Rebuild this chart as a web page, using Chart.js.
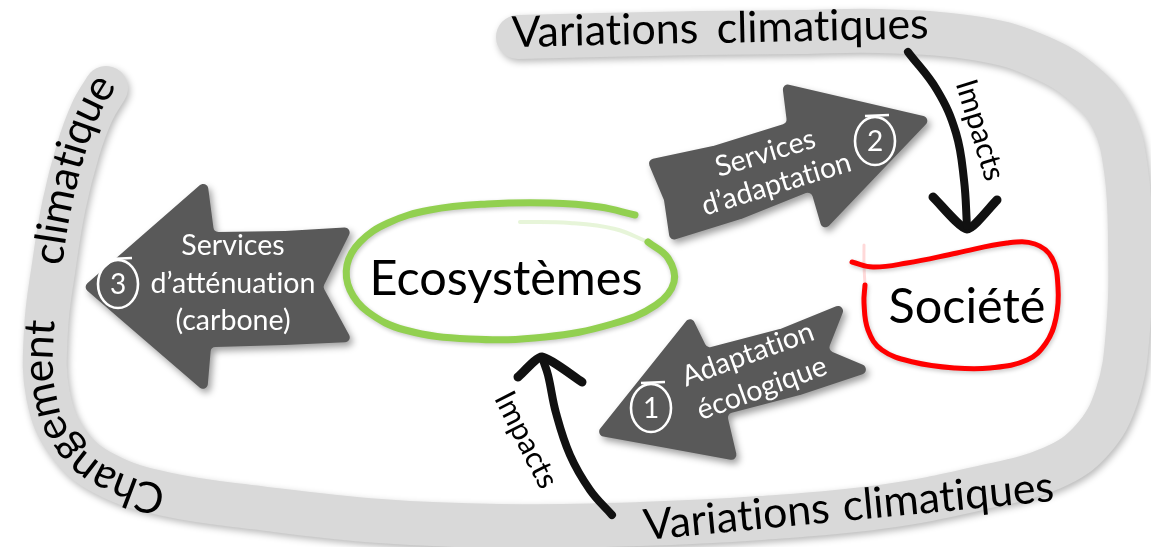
<!DOCTYPE html>
<html>
<head>
<meta charset="utf-8">
<script src="https://cdn.jsdelivr.net/npm/chart.js@4.4.1/dist/chart.umd.min.js"></script>
<style>
html,body{margin:0;padding:0;background:#fff;overflow:hidden}
#wrap{width:1151px;height:547px;position:relative}
</style>
</head>
<body>
<div id="wrap"><canvas id="c"></canvas></div>
<script>
// ---- Diagram data (diagram units: x 0..1151 left→right, y 0..547 top→bottom) ----
const bandPath = [[518,37],[600,35],[700,33],[800,32],[880,31],[980,39],[1040,57],[1085,85],[1113,120],[1126,170],[1130,240],[1128,330],[1117,395],[1092,440],[1052,468],[980,488],[880,507],[760,518],[640,524],[500,526],[380,521],[260,508],[165,494],[105,474],[68,443],[48,395],[46,330],[54,265],[64,205],[78,150],[92,112],[106,88]];
const ecoRing = [[635,215],[600,207],[550,203],[487,204],[430,210],[388,223],[360,242],[347,265],[350,290],[368,312],[405,330],[470,339],[545,337],[612,324],[656,305],[674,282],[668,258],[648,242]];
const ecoRingFade = [[648,242],[615,229],[570,223],[520,222]];
const societyLoop = [[852,262],[873,267],[907,263],[957,253],[1007,243],[1035,244],[1052,258],[1058,287],[1056,318],[1046,343],[1027,360],[990,368],[955,368],[913,362],[882,350],[868,330],[864,303],[865,285]];
const societyLoopFade = [[865,285],[864,265],[864,245]];
const impactTop = [[908,52],[937,90],[956,133],[964,180],[967,226]];
const impactTopHead = [[933,197],[967,229],[997,200]];
const impactBottom = [[612,515],[590,490],[570,455],[556,413],[548,375],[543,360]];
const impactBottomHead = [[518,377],[542,357],[582,382]];

const arrowMitigation = [[83,287],[207,179],[214,232],[285,231],[353,227],[323,287],[353,342],[285,345],[211,347],[207,394]];
const arrowAdaptServices = [[647,160],[713,146],[787,123],[782,83],[932,118],[823,232],[811,191],[741,219],[670,241],[664,200]];
const arrowEcoAdapt = [[595,435],[691,315],[707,348],[780,329],[847,302],[828,350],[875,370],[800,395],[727,414],[738,461]];

const mitigationLines = ['Services','d’atténuation','(carbone)'];
const mitigationBaselines = [[233,255],[233,293],[233,330]];
const adaptServiceLines = ['Services','d’adaptation'];
const adaptServiceBaselines = [[768,162],[779,193]];
const ecoAdaptLines = ['Adaptation','écologique'];
const ecoAdaptBaselines = [[751,363],[765,397]];
const arrowTextAngles = [0,-17,-20];

const badgeNumbers = ['3','2','1'];
const badgeCenters = [[118,283],[875,140],[651,407]];

const nodeNames = ['Ecosystèmes','Société'];
const nodeBaselines = [[506,295],[967,323]];
const nodeWidths = [273,157];

const bandWords = ['Variations','climatiques','Variations','climatiques'];
const bandWordStarts = [[512,47],[717,43],[645,540],[844,521]];
const bandWordAngles = [-1.3,-1.3,-5.5,-5.5];
const curvedWords = ['Changement','climatique'];
const curvedWordStarts = [[164,495],[54,265]];

const impactLabel = 'Impacts';
const impactLabelCenters = [[980,130],[526,440]];
const impactLabelAngles = [73,63];

// ---- helpers ----
const FONT = 'Lato, "Open Sans", sans-serif';
const noLig = s => s.replace(/([tf])([ilf])/g, '$1\u200C$2');
const toXY = arr => arr.map(p => ({x:p[0], y:p[1]}));
function lineDS(label, pts, color, width, tension, order) {
  return {label, data: toXY(pts), borderColor: color, borderWidth: width, tension,
    pointRadius: 0, borderCapStyle: 'round', borderJoinStyle: 'round', fill: false, order};
}
const shadows = {
  band: {c:'rgba(0,0,0,0.28)', b:7, x:2, y:3},
  eco: {c:'rgba(0,0,0,0.22)', b:4, x:1, y:2},
  soc: {c:'rgba(0,0,0,0.22)', b:4, x:1, y:2},
};
function fitPx(ctx, text, width) {
  ctx.font = '100px ' + FONT;
  return 100 * width / ctx.measureText(noLig(text)).width;
}
function sampleLine(meta) {
  const pts = meta.data, out = [];
  for (let i = 0; i < pts.length - 1; i++) {
    const a = pts[i], b = pts[i+1];
    const c1x = a.cp2x ?? a.x, c1y = a.cp2y ?? a.y, c2x = b.cp1x ?? b.x, c2y = b.cp1y ?? b.y;
    for (let k = 0; k < 24; k++) {
      const t = k/24, u = 1-t;
      out.push({x: u*u*u*a.x + 3*u*u*t*c1x + 3*u*t*t*c2x + t*t*t*b.x,
                y: u*u*u*a.y + 3*u*u*t*c1y + 3*u*t*t*c2y + t*t*t*b.y});
    }
  }
  const l = pts[pts.length-1]; out.push({x:l.x, y:l.y});
  out[0].s = 0;
  for (let i = 1; i < out.length; i++) out[i].s = out[i-1].s + Math.hypot(out[i].x-out[i-1].x, out[i].y-out[i-1].y);
  return out;
}
function pos(S, d) {
  const n = S.length; let i = 1;
  if (d >= S[n-1].s) i = n-1; else if (d > 0) { while (i < n-1 && S[i].s < d) i++; }
  const a = S[i-1], b = S[i], seg = (b.s - a.s) || 1e-6, t = (d - a.s)/seg;
  return {x: a.x + (b.x-a.x)*t, y: a.y + (b.y-a.y)*t};
}
function nearestS(S, x, y) {
  let best = 0, bd = Infinity;
  for (const p of S) { const d = (p.x-x)**2 + (p.y-y)**2; if (d < bd) { bd = d; best = p.s; } }
  return best;
}
function textOnPath(ctx, S, text, s0, offset) {
  let s = s0;
  ctx.textAlign = 'center'; ctx.textBaseline = 'alphabetic';
  for (const ch of text) {
    const w = ctx.measureText(ch).width;
    const m = s + w/2;
    const p = pos(S, m), p1 = pos(S, m-6), p2 = pos(S, m+6);
    const ang = Math.atan2(p2.y-p1.y, p2.x-p1.x);
    ctx.save();
    ctx.translate(p.x - Math.sin(ang)*offset, p.y + Math.cos(ang)*offset);
    ctx.rotate(ang);
    ctx.fillText(ch, 0, 0);
    ctx.restore();
    s += w;
  }
}
function roundedPoly(ctx, pts, r) {
  const n = pts.length;
  const m = {x:(pts[n-1].x+pts[0].x)/2, y:(pts[n-1].y+pts[0].y)/2};
  ctx.beginPath(); ctx.moveTo(m.x, m.y);
  for (let i = 0; i < n; i++) { const p = pts[i], q = pts[(i+1)%n]; ctx.arcTo(p.x, p.y, (p.x+q.x)/2, (p.y+q.y)/2, r); }
  ctx.closePath();
}

const diagram = {
  id: 'diagram',
  beforeDatasetDraw(chart, args) {
    const ctx = chart.ctx; ctx.save();
    const sh = shadows[chart.data.datasets[args.index].label];
    if (sh) { ctx.shadowColor = sh.c; ctx.shadowBlur = sh.b; ctx.shadowOffsetX = sh.x; ctx.shadowOffsetY = sh.y; }
  },
  afterDatasetDraw(chart, args) {
    chart.ctx.restore();
    if (chart.data.datasets[args.index].label !== 'band') return;
    const ctx = chart.ctx, X = v => chart.scales.x.getPixelForValue(v), Y = v => chart.scales.y.getPixelForValue(v);
    const P = arr => arr.map(p => ({x: X(p[0]), y: Y(p[1])}));
    [arrowMitigation, arrowAdaptServices, arrowEcoAdapt].forEach(a => {
      ctx.save();
      ctx.shadowColor = 'rgba(0,0,0,0.38)'; ctx.shadowBlur = 7; ctx.shadowOffsetX = 3; ctx.shadowOffsetY = 4;
      roundedPoly(ctx, P(a), 5);
      ctx.fillStyle = '#595959'; ctx.fill();
      ctx.restore();
    });
    const af = fitPx(ctx, 'd’atténuation', 165);
    ctx.save();
    ctx.fillStyle = '#ffffff'; ctx.font = af.toFixed(2) + 'px ' + FONT; ctx.textAlign = 'center'; ctx.textBaseline = 'alphabetic';
    [[mitigationLines, mitigationBaselines],[adaptServiceLines, adaptServiceBaselines],[ecoAdaptLines, ecoAdaptBaselines]].forEach((g, gi) => {
      g[0].forEach((t, i) => {
        ctx.save(); ctx.translate(X(g[1][i][0]), Y(g[1][i][1])); ctx.rotate(arrowTextAngles[gi]*Math.PI/180);
        ctx.fillText(noLig(t), 0, 0); ctx.restore();
      });
    });
    badgeNumbers.forEach((n, i) => {
      const cx = X(badgeCenters[i][0]), cy = Y(badgeCenters[i][1]);
      ctx.save();
      ctx.strokeStyle = '#ffffff'; ctx.lineWidth = 2.6;
      ctx.beginPath(); ctx.ellipse(cx, cy + 1, 20, 24, 0, 0, Math.PI*2); ctx.stroke();
      ctx.beginPath(); ctx.moveTo(cx - 10, cy - 24); ctx.lineTo(cx + 14, cy - 25); ctx.stroke();
      ctx.fillStyle = '#ffffff'; ctx.font = '28px ' + FONT; ctx.textAlign = 'center'; ctx.textBaseline = 'alphabetic';
      ctx.fillText(n, cx, cy + 11);
      ctx.restore();
    });
    ctx.restore();
  },
  afterDatasetsDraw(chart) {
    const ctx = chart.ctx, X = v => chart.scales.x.getPixelForValue(v), Y = v => chart.scales.y.getPixelForValue(v);
    ctx.save();
    ctx.fillStyle = '#000000';
    const bf = fitPx(ctx, 'climatiques', 212);
    ctx.font = bf.toFixed(2) + 'px ' + FONT; ctx.textAlign = 'left'; ctx.textBaseline = 'alphabetic';
    bandWords.forEach((w, i) => {
      ctx.save(); ctx.translate(X(bandWordStarts[i][0]), Y(bandWordStarts[i][1]));
      ctx.rotate(bandWordAngles[i]*Math.PI/180); ctx.fillText(noLig(w), 0, 0); ctx.restore();
    });
    const bandMeta = chart.getDatasetMeta(chart.data.datasets.findIndex(d => d.label === 'band'));
    const S = sampleLine(bandMeta);
    curvedWords.forEach((w, i) => {
      const s0 = nearestS(S, X(curvedWordStarts[i][0]), Y(curvedWordStarts[i][1]));
      textOnPath(ctx, S, w, s0, 8);
    });
    nodeNames.forEach((n, i) => {
      const f = fitPx(ctx, n, nodeWidths[i]);
      ctx.font = f.toFixed(2) + 'px ' + FONT; ctx.textAlign = 'center'; ctx.textBaseline = 'alphabetic';
      ctx.fillText(noLig(n), X(nodeBaselines[i][0]), Y(nodeBaselines[i][1]));
    });
    const imf = fitPx(ctx, impactLabel, 104);
    ctx.font = imf.toFixed(2) + 'px ' + FONT; ctx.textAlign = 'center'; ctx.textBaseline = 'middle';
    impactLabelCenters.forEach((c, i) => {
      ctx.save(); ctx.translate(X(c[0]), Y(c[1])); ctx.rotate(impactLabelAngles[i]*Math.PI/180);
      ctx.fillText(impactLabel, 0, 0); ctx.restore();
    });
    ctx.restore();
  }
};

new Chart(document.getElementById('c'), {
  type: 'line',
  data: {
    datasets: [
      lineDS('band', bandPath, '#d9d9d9', 44, 0.4, 10),
      lineDS('ecoFade', ecoRingFade, 'rgba(146,208,80,0.22)', 4, 0.4, 3),
      lineDS('eco', ecoRing, '#92d050', 7, 0.4, 2),
      lineDS('socFade', societyLoopFade, 'rgba(255,0,0,0.15)', 3, 0.4, 3),
      lineDS('soc', societyLoop, '#ff0000', 5, 0.4, 2),
      lineDS('impA', impactTop, '#111111', 8, 0.4, 1),
      lineDS('impAHead', impactTopHead, '#111111', 9, 0.2, 1),
      lineDS('impB', impactBottom, '#111111', 8, 0.4, 1),
      lineDS('impBHead', impactBottomHead, '#111111', 9, 0.2, 1)
    ]
  },
  options: {
    responsive: true, maintainAspectRatio: false, animation: false, devicePixelRatio: 1,
    events: [],
    layout: {padding: 0},
    plugins: {legend: {display: false}, tooltip: {enabled: false}},
    scales: {
      x: {type: 'linear', min: 0, max: 1151, display: false},
      y: {type: 'linear', min: 0, max: 547, reverse: true, display: false}
    }
  },
  plugins: [diagram]
});
</script>
</body>
</html>
